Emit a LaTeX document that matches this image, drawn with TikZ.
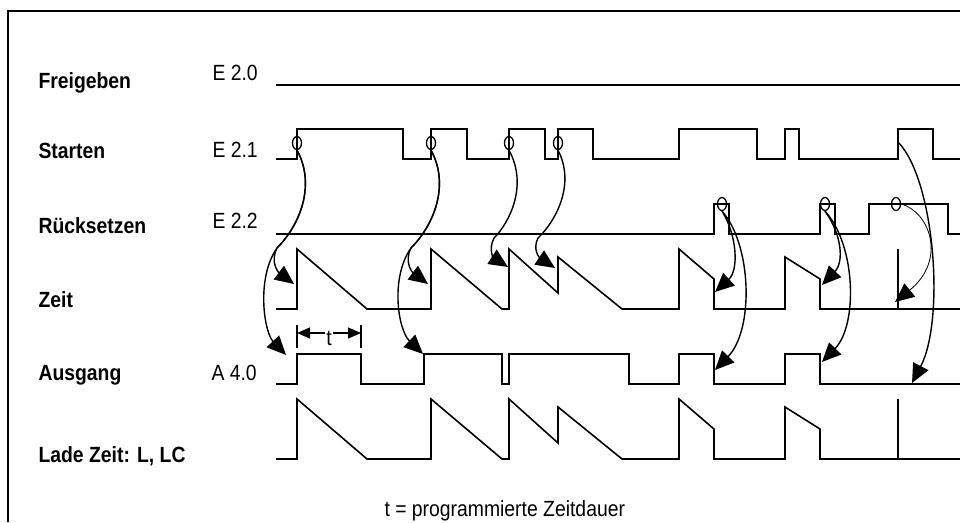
\documentclass[tikz,border=0pt]{standalone}
\usepackage{fontspec}
\setmainfont{Liberation Sans}[FakeStretch=0.88]
\usetikzlibrary{arrows.meta,shapes.geometric}
\tikzset{
  wave/.style={line width=1.6pt, line join=miter},
  trig/.style={line width=1.4pt, -{Triangle[length=19pt,width=17pt]}},
  ring/.style={draw, ellipse, line width=1.3pt, minimum width=9pt, minimum height=13pt, inner sep=0pt},
  sig/.style={anchor=base west, font=\fontsize{22}{26}\selectfont\bfseries},
  adr/.style={anchor=base west, font=\fontsize{22}{26}\selectfont},
  dim/.style={line width=1.3pt, -{Triangle[length=13pt,width=11pt]}}
}
\begin{document}
\begin{tikzpicture}[x=1pt, y=-1pt]
    \useasboundingbox (0,0) rectangle (960,522);
    \draw[line width=2pt] (8,522) -- (8,11) -- (960,11);
    % signal names and addresses
    \node[sig] (nfrei) at (35,88) {Freigeben};
    \node[sig] (nstart) at (35,158) {Starten};
    \node[sig] (nreset) at (35,233) {Rücksetzen};
    \node[sig] (nzeit) at (35,307) {Zeit};
    \node[sig] (naus) at (35,380) {Ausgang};
    \node[sig] (nlade) at (35,462) {Lade Zeit: L, LC};
    \node[adr] (e20) at (209,80) {E 2.0};
    \node[adr] (e21) at (209,157) {E 2.1};
    \node[adr] (e22) at (209,228) {E 2.2};
    \node[adr] (a40) at (208,380) {A 4.0};
    \node[adr] (note) at (381,516) {t = programmierte Zeitdauer};
    % waveforms
    \draw[wave] (276,85) -- (960,85);
    \draw[wave] (276,159) -| (297,129) -| (403,159) -| (431,129) -| (467,159) -| (509,129) -| (545,159)
        -| (558,129) -| (593,159) -| (679,129) -| (757,159) -| (785,129) -| (799,159) -| (898,129)
        -| (933,159) -- (960,159);
    \draw[wave] (276,234) -| (714,204) -| (729,234) -| (820,204) -| (835,234) -| (869,204) -| (948,234) -- (960,234);
    \foreach \dy in {0,150}
        \draw[wave, shift={(0,\dy)}] (276,309) -- (297,309) -- (297,249) -- (367,309) -- (431,309) -- (431,249)
            -- (502,309) -- (509,309) -- (509,249) -- (558,293) -- (558,257) -- (622,309) -- (679,309)
            -- (679,249) -- (714,279) -- (714,309) -- (785,309) -- (785,257) -- (820,279) -- (820,309)
            -- (898,309) -- (898,249) -- (898,309) -- (960,309);
    \draw[wave] (276,384) -| (297,354) -| (361,384) -| (424,354) -| (502,384) -| (509,354) -| (629,384)
        -| (679,354) -| (714,384) -| (785,354) -| (820,384) -- (960,384);
    % duration t
    \coordinate (tl) at (297,333);
    \coordinate (tr) at (361,333);
    \draw[line width=1.3pt] (297,325) -- (297,348) (361,325) -- (361,348);
    \node[font=\fontsize{22}{26}\selectfont, inner sep=1.5pt] (tlab) at (329,338) {t};
    \draw[dim] (tlab.west |- tl) -- (tl);
    \draw[dim] (tlab.east |- tr) -- (tr);
    % edge markers
    \node[ring] (c1) at (297,143) {};
    \node[ring] (c2) at (431,143) {};
    \node[ring] (c3) at (509,143) {};
    \node[ring] (c4) at (558,143) {};
    \node[ring] (r1) at (722,204) {};
    \node[ring] (r2) at (825,204) {};
    \node[ring] (r3) at (896,204) {};
    \coordinate (s5) at (898,142);
    % arrow targets
    \coordinate (z1) at (294,284);
    \coordinate (a1) at (286,355);
    \coordinate (z2) at (428,284);
    \coordinate (a2) at (423,354);
    \coordinate (z3) at (508,267);
    \coordinate (z4) at (555,268);
    \coordinate (z5) at (715,292);
    \coordinate (a5) at (715,370);
    \coordinate (z6) at (822,285);
    \coordinate (a6) at (822,362);
    \coordinate (z7) at (895,302);
    \coordinate (a7) at (912,383);
    % start edges
    \draw[trig] (c1.south) .. controls (316,185) and (300,225) .. (277,248) .. controls (270,262) and (278,272) .. (z1);
    \draw[trig] (c1.south) .. controls (316,185) and (300,225) .. (277,248) .. controls (256,278) and (264,332) .. (a1);
    \draw[trig] (c2.south) .. controls (450,185) and (434,225) .. (411,248) .. controls (404,262) and (412,272) .. (z2);
    \draw[trig] (c2.south) .. controls (450,185) and (434,225) .. (411,248) .. controls (390,278) and (398,330) .. (a2);
    \draw[trig] (c3.south) .. controls (528,185) and (510,222) .. (494,238) .. controls (488,250) and (494,258) .. (z3);
    \draw[trig] (c4.south) .. controls (576,185) and (555,222) .. (538,238) .. controls (532,250) and (540,258) .. (z4);
    \draw[trig] (s5) .. controls (935,180) and (945,320) .. (a7);
    % reset edges
    \draw[trig] (r1.south) .. controls (737,235) and (739,270) .. (z5);
    \draw[trig] (r1.south) .. controls (752,245) and (754,330) .. (a5);
    \draw[trig] (r2.south) .. controls (842,235) and (844,262) .. (z6);
    \draw[trig] (r2.south) .. controls (856,245) and (858,325) .. (a6);
    \draw[trig, line width=0.8pt] (r3.east) .. controls (930,212) and (947,260) .. (z7);
\end{tikzpicture}
\end{document}
